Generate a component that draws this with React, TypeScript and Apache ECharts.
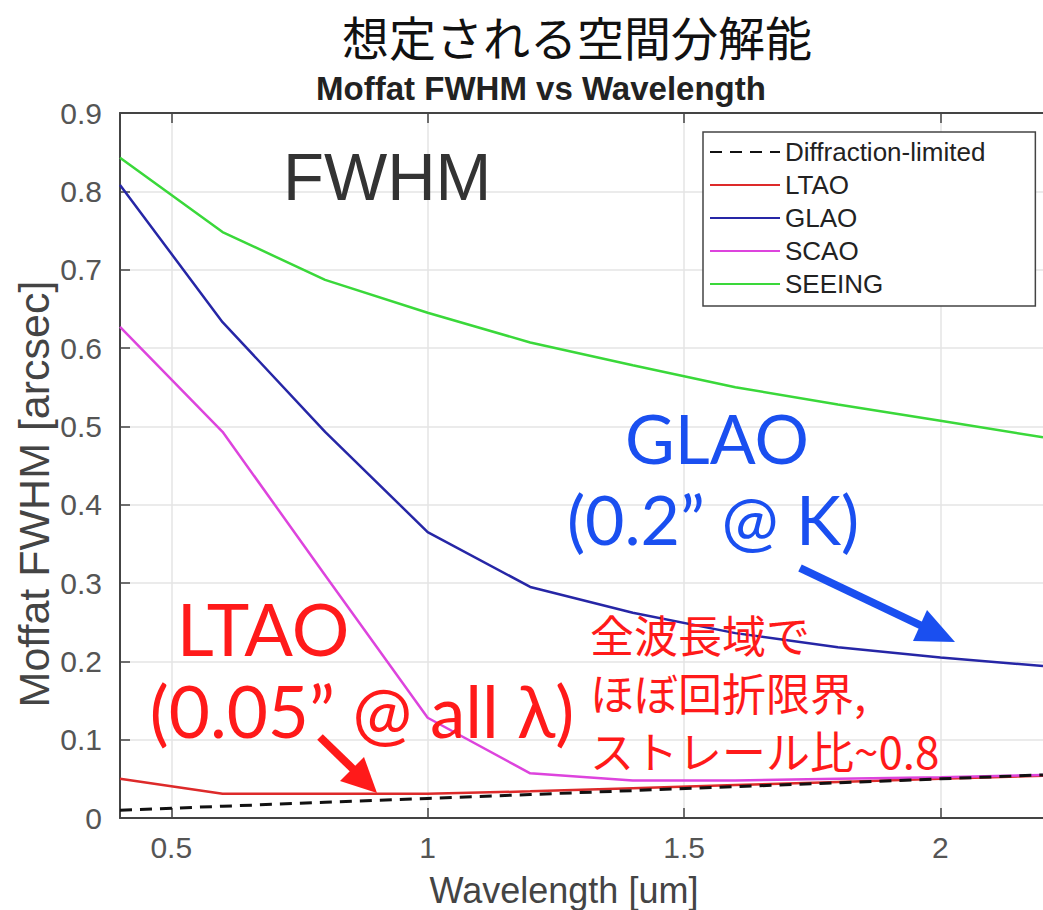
import React, { useEffect, useRef } from "react";
import * as echarts from "echarts";

const wavelengths = [0.4, 0.6, 0.8, 1.0, 1.2, 1.4, 1.6, 1.8, 2.0, 2.2];
const diffraction = [0.010, 0.015, 0.020, 0.025, 0.030, 0.035, 0.040, 0.045, 0.050, 0.055];
const ltao = [0.050, 0.031, 0.031, 0.031, 0.034, 0.038, 0.042, 0.046, 0.050, 0.054];
const glao = [0.808, 0.633, 0.493, 0.365, 0.295, 0.262, 0.236, 0.218, 0.205, 0.194];
const scao = [0.627, 0.493, 0.31, 0.128, 0.057, 0.048, 0.048, 0.05, 0.052, 0.055];
const seeing = [0.843, 0.748, 0.687, 0.645, 0.607, 0.578, 0.55, 0.528, 0.507, 0.486];
const xTicks = [0.5, 1, 1.5, 2];
const seriesNames = ["Diffraction-limited", "LTAO", "GLAO", "SCAO", "SEEING"];
const noteLines = ["全波長域で", "ほぼ回折限界,", "ストレール比~0.8"];

const pairs = (ys: number[]) => wavelengths.map((x, i) => [x, ys[i]]);

const SANS = "'Liberation Sans', Arial, Helvetica, sans-serif";
const JP = "'Noto Sans CJK JP', sans-serif";
const GEO = "Lato, 'Noto Sans', sans-serif";
const RED = "#ff1a1a";
const BLUE = "#1a4ff0";

export default function App() {
  const ref = useRef<HTMLDivElement>(null);
  useEffect(() => {
    document.body.style.margin = "0";
    if (!ref.current) return;
    const chart = echarts.init(ref.current, undefined, { renderer: "svg" });
    const lineSeries = (name: string, data: number[], color: string, dashed = false) => ({
      name,
      type: "line",
      data: pairs(data),
      symbol: "none",
      lineStyle: { color, width: dashed ? 3 : 2.5, type: dashed ? [12, 8] : "solid" },
      itemStyle: { color },
      z: dashed ? 3 : 2,
    });
    chart.setOption({
      animation: false,
      backgroundColor: "#fff",
      grid: { left: 120, top: 113, right: -11, bottom: 92, show: false },
      legend: {
        orient: "vertical",
        left: 703,
        top: 132,
        data: seriesNames,
        itemWidth: 70,
        itemHeight: 14,
        itemGap: 7,
        padding: [7, 50, 9, 6],
        borderColor: "#444",
        borderWidth: 1.5,
        backgroundColor: "#fff",
        itemStyle: { opacity: 0 },
        textStyle: { fontFamily: SANS, fontSize: 26, color: "#222" },
      },
      xAxis: [
        {
          type: "value",
          min: 0.4,
          max: 2.2,
          axisLine: { show: true, lineStyle: { color: "#444", width: 2 } },
          axisTick: { show: true, inside: true, length: 10, customValues: xTicks, lineStyle: { color: "#444", width: 1.5 } },
          axisLabel: { customValues: xTicks, fontFamily: SANS, fontSize: 30, color: "#555", margin: 14 },
          splitLine: { show: true, lineStyle: { color: "#e4e4e4", width: 1.5 } },
        },
        {
          type: "value",
          position: "top",
          min: 0.4,
          max: 2.2,
          axisLine: { show: true, lineStyle: { color: "#444", width: 2 } },
          axisTick: { show: true, inside: true, length: 10, customValues: xTicks, lineStyle: { color: "#444", width: 1.5 } },
          axisLabel: { show: false },
          splitLine: { show: false },
        },
      ],
      yAxis: {
        type: "value",
        min: 0,
        max: 0.9,
        interval: 0.1,
        axisLine: { show: true, lineStyle: { color: "#444", width: 2 } },
        axisTick: { show: true, inside: true, length: 10, lineStyle: { color: "#444", width: 1.5 } },
        axisLabel: { fontFamily: SANS, fontSize: 30, color: "#555", margin: 18 },
        splitLine: { show: true, lineStyle: { color: "#e4e4e4", width: 1.5 } },
      },
      series: [
        lineSeries(seriesNames[0], diffraction, "#111", true),
        lineSeries(seriesNames[1], ltao, "#dd2a2a"),
        lineSeries(seriesNames[2], glao, "#2626a6"),
        lineSeries(seriesNames[3], scao, "#dd44dd"),
        lineSeries(seriesNames[4], seeing, "#3ad83a"),
      ],
      graphic: [
        { type: "text", x: 577, y: 35, style: { text: "想定される空間分解能", font: `47px ${JP}`, fill: "#111", textAlign: "center", textVerticalAlign: "middle" } },
        { type: "text", x: 541, y: 88, style: { text: "Moffat FWHM vs Wavelength", font: `bold 33px ${SANS}`, fill: "#222", textAlign: "center", textVerticalAlign: "middle" } },
        { type: "text", x: 283, y: 176, z: 10, style: { text: "FWHM", font: `67px ${SANS}`, fill: "#333", textAlign: "left", textVerticalAlign: "middle" } },
        { type: "text", x: 717, y: 437, z: 10, style: { text: "GLAO", font: `68px ${GEO}`, fill: BLUE, textAlign: "center", textVerticalAlign: "middle" } },
        { type: "text", x: 713, y: 518, z: 10, style: { text: "(0.2” @ K)", font: `68px ${GEO}`, fill: BLUE, textAlign: "center", textVerticalAlign: "middle" } },
        { type: "text", x: 263, y: 628, z: 10, style: { text: "LTAO", font: `72px ${GEO}`, fill: RED, textAlign: "center", textVerticalAlign: "middle" } },
        { type: "text", x: 362, y: 710, z: 10, style: { text: "(0.05” @ all λ)", font: `71px ${GEO}`, fill: RED, textAlign: "center", textVerticalAlign: "middle" } },
        ...noteLines.map((t, i) => ({
          type: "text", x: 590, y: 634 + i * 58, z: 10,
          style: { text: t, font: `44px ${JP}`, fill: RED, textAlign: "left", textVerticalAlign: "middle" },
        })),
        { type: "text", x: 34, y: 494, rotation: Math.PI / 2, style: { text: "Moffat FWHM [arcsec]", font: `43px ${SANS}`, fill: "#444", textAlign: "center", textVerticalAlign: "middle" } },
        { type: "text", x: 564, y: 890, style: { text: "Wavelength [um]", font: `36px ${SANS}`, fill: "#444", textAlign: "center", textVerticalAlign: "middle" } },
        { type: "line", z: 10, shape: { x1: 320, y1: 737, x2: 354, y2: 770 }, style: { stroke: RED, lineWidth: 8 } },
        { type: "polygon", z: 10, shape: { points: [[377, 793], [340, 781], [364, 757]] }, style: { fill: RED } },
        { type: "line", z: 10, shape: { x1: 800, y1: 568, x2: 922, y2: 626 }, style: { stroke: BLUE, lineWidth: 8 } },
        { type: "polygon", z: 10, shape: { points: [[955, 642], [913, 641], [927, 610]] }, style: { fill: BLUE } },
      ],
    });
    return () => chart.dispose();
  }, []);
  return <div ref={ref} style={{ width: 1043, height: 910 }} />;
}
